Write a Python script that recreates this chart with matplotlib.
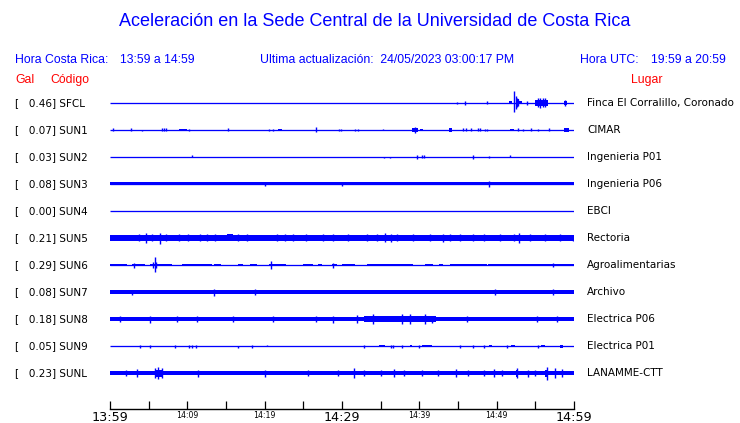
import matplotlib
matplotlib.use("Agg")
import matplotlib.pyplot as plt

# ---------------- data ----------------
codes = ["SFCL", "SUN1", "SUN2", "SUN3", "SUN4", "SUN5", "SUN6", "SUN7", "SUN8", "SUN9", "SUNL"]
gals = [0.46, 0.07, 0.03, 0.08, 0.00, 0.21, 0.29, 0.08, 0.18, 0.05, 0.23]
places = ["Finca El Corralillo, Coronado", "CIMAR", "Ingenieria P01", "Ingenieria P06", "EBCI",
          "Rectoria", "Agroalimentarias", "Archivo", "Electrica P06", "Electrica P01", "LANAMME-CTT"]

tick_minutes = list(range(0, 61, 5))
tick_labels = ["13:59", "", "14:09", "", "14:19", "", "14:29", "", "14:39", "", "14:49", "", "14:59"]
big_labels = ["13:59", "14:29", "14:59"]

# minutes after 13:59 ; amplitudes in trace units (27 per trace spacing)
# noise bands: (start, end, half-amplitude)
SFCL_bands = [(51.6, 52.0, 1.5), (52.5, 52.9, 3.5), (52.9, 53.3, 1.5), (55.0, 56.6, 2.8), (58.7, 59.1, 2)]
SUN1_bands = [(8.9, 10.0, 1.2), (21.7, 22.2, 1.2), (39.1, 39.8, 1.8), (40.1, 40.5, 1.2), (43.8, 44.2, 1.8),
              (51.7, 52.2, 1.2), (58.7, 59.3, 1.8)]
SUN2_bands = []
SUN3_bands = [(0.0, 60.0, 1.5)]
SUN4_bands = []
SUN5_bands = [(0.0, 60.0, 2.7), (15.1, 15.9, 3.5)]
SUN6_bands = [(0.0, 2.2, 0.8), (2.8, 4.5, 1), (5.2, 8.0, 1), (9.3, 13.2, 1), (13.4, 14.4, 0.8),
              (16.6, 17.2, 0.8), (18.1, 19.0, 0.8), (20.5, 22.8, 1), (25.0, 26.3, 0.8), (26.9, 27.4, 0.8),
              (28.7, 29.3, 1), (30.0, 31.7, 0.8), (33.2, 39.2, 1), (40.7, 41.8, 0.8), (42.5, 43.1, 0.8),
              (44.0, 48.7, 1), (48.9, 60.0, 1)]
SUN7_bands = [(0.0, 60.0, 2)]
SUN8_bands = [(0.0, 60.0, 2.3), (32.8, 42.2, 3)]
SUN9_bands = [(34.8, 35.6, 1.2), (38.8, 39.0, 1.2), (40.4, 41.6, 1.2), (49.0, 49.4, 1.2),
              (51.9, 52.4, 1.2), (55.7, 56.2, 1.2), (58.2, 58.6, 1.5)]
SUNL_bands = [(0.0, 60.0, 2.1), (6.0, 6.8, 3.5), (52.5, 52.8, 3.5), (56.3, 56.7, 3.5)]

# spikes: (time, up, down)
SFCL_spikes = [(44.9, 1, 1), (45.9, 2, 2), (48.7, 1.5, 1.5), (52.3, 12, 9.4), (52.45, 7, 6),
               (52.6, 5, 4.5), (52.8, 3.5, 3), (53.9, 2, 2), (55.4, 5, 4), (55.6, 5, 5),
               (56.0, 4.5, 4), (56.2, 5, 4.5), (58.9, 3, 3)]
SUN1_spikes = [(0.4, 1.5, 1.5), (2.7, 1.5, 1.5), (4.2, 0, 1.5), (6.7, 1.5, 1.5), (7.0, 1.5, 1.5),
               (7.3, 1.5, 1.5), (10.2, 1, 1), (15.3, 1.5, 1.5), (20.6, 1, 1), (21.1, 1, 1),
               (26.7, 2.5, 2.5), (29.6, 1, 1), (29.9, 1, 1), (31.7, 1, 1), (32.1, 1, 1),
               (35.3, 1, 0), (39.4, 3, 3), (45.6, 1.5, 1.5), (46.0, 1.5, 1.5), (46.7, 1.5, 1.5),
               (47.6, 1.5, 1.5), (47.9, 1.5, 1.5), (48.5, 1, 1), (48.7, 1, 1), (52.8, 1.5, 1.5),
               (53.4, 1, 1), (54.4, 1.5, 1.5), (55.3, 1, 1), (56.8, 1.5, 1.5)]
SUN2_spikes = [(10.6, 1.5, 0), (35.4, 0, 1.5), (36.2, 0, 1), (39.7, 2, 2), (40.4, 1.5, 1.5),
               (40.6, 1.5, 1.5), (47.0, 2, 2), (49.0, 1, 1), (51.7, 1.5, 0)]
SUN3_spikes = [(49.0, 3, 3), (20.0, 2, 2), (30.0, 2, 2)]
SUN4_spikes = []
SUN5_spikes = [(4.7, 5, 5), (6.5, 5, 6), (35.6, 5, 4), (36.4, 4, 4), (43.0, 4, 4), (52.9, 5, 5),
               (59.9, 3, 3), (3.8, 3.5, 3.5), (5.4, 3.5, 3.5), (7.3, 3.5, 3.5), (8.9, 3.5, 3.5),
               (10.1, 3.5, 3.5), (11.6, 3.5, 3.5), (12.5, 3.5, 3.5), (13.6, 3.5, 3.5), (16.6, 3.5, 3.5),
               (17.7, 3.5, 3.5), (21.6, 3.5, 3.5), (22.6, 3.5, 3.5), (23.7, 3.5, 3.5), (25.4, 3.5, 3.5),
               (27.5, 3.5, 3.5), (28.8, 3.5, 3.5), (30.8, 3.5, 3.5), (33.2, 3.5, 3.5), (34.5, 3.5, 3.5),
               (37.1, 3.5, 3.5), (39.2, 3.5, 3.5), (41.4, 3.5, 3.5), (44.0, 3.5, 3.5), (45.3, 3.5, 3.5),
               (47.0, 3.5, 3.5), (48.3, 3.5, 3.5), (50.4, 3.5, 3.5), (52.2, 3.5, 3.5), (54.3, 3.5, 3.5),
               (56.3, 3.5, 3.5), (58.2, 3.5, 3.5)]
SUN6_spikes = [(5.8, 8.3, 7.3), (5.6, 3.5, 3), (6.0, 3, 3), (3.1, 2.5, 2.5), (20.8, 4, 4), (28.9, 2.5, 2.5),
               (57.3, 2, 2)]
SUN7_spikes = [(2.8, 2.5, 2.5), (13.4, 3.5, 3.5), (18.8, 3, 3), (49.8, 3, 3), (57.3, 3, 3)]
SUN8_spikes = [(5.2, 3.5, 3.5), (31.9, 4, 4), (34.0, 5, 5), (37.7, 5, 5), (38.8, 5, 5), (40.7, 5, 5),
               (41.6, 3.5, 3.5), (1.3, 3, 3), (8.6, 3, 3), (11.2, 3, 3), (15.9, 3, 3), (21.1, 3, 3),
               (26.7, 3, 3), (28.9, 3.5, 3.5), (46.1, 3, 3), (55.2, 3, 3), (57.8, 3, 3)]
SUN9_spikes = [(3.9, 1.5, 1.5), (5.2, 1.5, 1.5), (8.4, 1.5, 1.5), (10.2, 1.5, 1.5), (10.6, 1.5, 1.5),
               (11.1, 1.5, 1.5), (16.6, 0, 1.5), (18.3, 1.5, 1.5), (20.3, 1.5, 0), (32.9, 1.5, 1.5),
               (36.3, 1.5, 1.5), (36.6, 1.5, 1.5), (37.7, 1.5, 1.5), (39.9, 1.5, 1.5), (45.2, 1.5, 1.5),
               (47.0, 1.5, 1.5), (48.3, 1.5, 1.5), (51.3, 1.5, 1.5), (55.3, 1.5, 1.5)]
SUNL_spikes = [(2.1, 3, 3), (3.5, 4, 4), (5.8, 5, 5), (6.2, 6, 6), (6.7, 5, 5), (11.4, 3.5, 3.5),
               (20.1, 3.5, 3.5), (25.6, 3, 3), (29.5, 3, 3), (31.5, 5, 5), (32.8, 3, 3), (35.1, 3, 3),
               (36.7, 4, 4), (38.0, 3, 3), (40.4, 3, 3), (42.4, 3, 3), (44.7, 4, 4), (46.3, 3, 3),
               (48.3, 3, 3), (49.6, 4, 4), (50.7, 3, 3), (52.6, 5, 5), (54.1, 3.5, 3.5), (55.0, 3, 3),
               (56.5, 6.5, 6.5), (57.5, 5, 5), (58.4, 4, 4)]

bands = [SFCL_bands, SUN1_bands, SUN2_bands, SUN3_bands, SUN4_bands, SUN5_bands,
         SUN6_bands, SUN7_bands, SUN8_bands, SUN9_bands, SUNL_bands]
spikes = [SFCL_spikes, SUN1_spikes, SUN2_spikes, SUN3_spikes, SUN4_spikes, SUN5_spikes,
          SUN6_spikes, SUN7_spikes, SUN8_spikes, SUN9_spikes, SUNL_spikes]

# ---------------- layout ----------------
W, H = 740, 423
SPACING = 27
BLUE = "#0000ff"
RED = "#ff0000"

fig = plt.figure(figsize=(W / 100, H / 100), dpi=100)
fig.patch.set_facecolor("white")


def fx(x):
    return x / W


def fy(y):
    return 1 - y / H


ax_left, ax_right, ax_top, ax_bottom = 110, 574, 85, 409
first_trace_y = 103
ax = fig.add_axes([fx(ax_left), fy(ax_bottom), (ax_right - ax_left) / W, (ax_bottom - ax_top) / H])
ax.set_xlim(0, 60)
ax.set_ylim(-(ax_bottom - first_trace_y), first_trace_y - ax_top)
ax.patch.set_alpha(0)
for s in ["top", "left", "right"]:
    ax.spines[s].set_visible(False)
ax.spines["bottom"].set_linewidth(1.0)
ax.spines["bottom"].set_color("black")
ax.set_yticks([])
ax.set_xticks(tick_minutes)
ax.set_xticklabels(tick_labels)
ax.tick_params(axis="x", direction="in", length=6, width=0.9, pad=1.5, colors="black")
for lab in ax.get_xticklabels():
    if lab.get_text() in big_labels:
        lab.set_fontsize(9.2)
    else:
        lab.set_fontsize(5.6)
    lab.set_family("DejaVu Sans")

lw_px = 72 / 100
for i, code in enumerate(codes):
    y0 = -SPACING * i
    ax.hlines(y0, 0, 60, color=BLUE, lw=1.3 * lw_px)
    for (t0, t1, a) in bands[i]:
        ax.fill_between([t0, t1], [y0 - a] * 2, [y0 + a] * 2, color=BLUE, lw=0)
    if spikes[i]:
        ts = [s[0] for s in spikes[i]]
        ups = [y0 + s[1] for s in spikes[i]]
        dns = [y0 - s[2] for s in spikes[i]]
        ax.vlines(ts, dns, ups, color=BLUE, lw=1.4 * lw_px)

    ty = first_trace_y + SPACING * i
    fig.text(fx(15), fy(ty), "[   %.2f] %s" % (gals[i], code), fontsize=7.5,
             family="DejaVu Sans", color="black", va="center", ha="left")
    fig.text(fx(587), fy(ty), places[i], fontsize=7.5, family="DejaVu Sans",
             color="black", va="center", ha="left")

# header texts
fig.text(fx(375), fy(22), "Aceleración en la Sede Central de la Universidad de Costa Rica",
         fontsize=13.0, family="Liberation Sans", color=BLUE, ha="center", va="center")
hdr = dict(fontsize=8.8, family="Liberation Sans", color=BLUE, va="center", ha="left")
fig.text(fx(15), fy(60), "Hora Costa Rica:", **hdr)
fig.text(fx(120), fy(60), "13:59 a 14:59", **hdr)
fig.text(fx(260), fy(60), "Ultima actualización:  24/05/2023 03:00:17 PM", **hdr)
fig.text(fx(580), fy(60), "Hora UTC:", **hdr)
fig.text(fx(651), fy(60), "19:59 a 20:59", **hdr)
red = dict(fontsize=8.8, family="Liberation Sans", color=RED, va="center", ha="left")
fig.text(fx(15), fy(80), "Gal", **red)
fig.text(fx(50), fy(80), "Código", **red)
fig.text(fx(631), fy(80), "Lugar", **red)

fig.savefig("out.png", dpi=100)
